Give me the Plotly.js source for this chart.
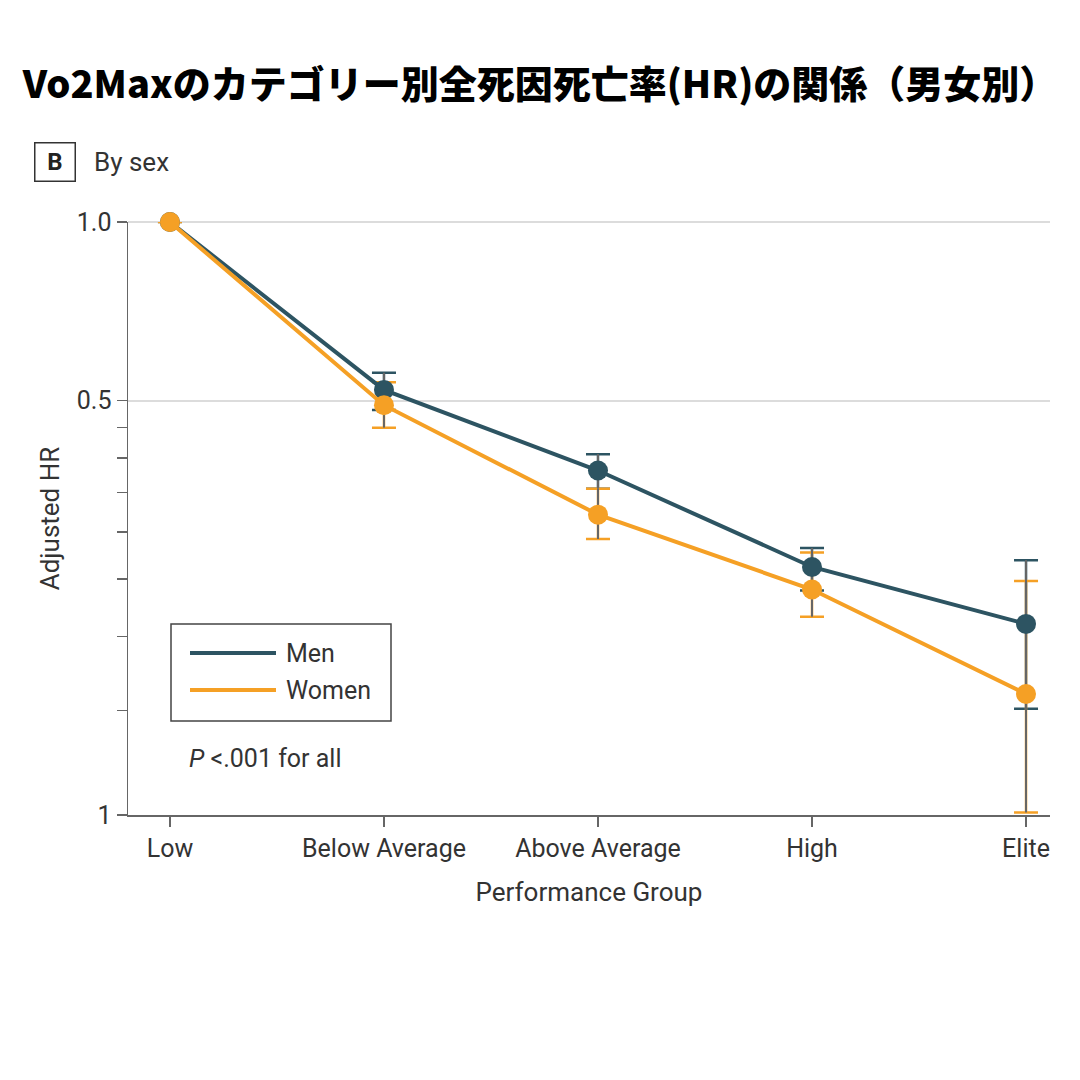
<!DOCTYPE html>
<html>
<head>
<meta charset="utf-8">
<script src="https://cdn.plot.ly/plotly-3.0.1.min.js"></script>
<style>
  html, body { margin: 0; padding: 0; background: #fff; }
  #chart { width: 1080px; height: 1080px; }
</style>
</head>
<body>
<div id="chart"></div>
<script>
// Values (adjusted HR with 95% CI)
const categories = ['Low', 'Below Average', 'Above Average', 'High', 'Elite'];
const menHR = [1.0, 0.521, 0.381, 0.262, 0.210];
const menLower = [1.0, 0.482, 0.355, 0.239, 0.151];
const menUpper = [1.0, 0.557, 0.406, 0.282, 0.269];
const womenHR = [1.0, 0.491, 0.321, 0.240, 0.160];
const womenLower = [1.0, 0.450, 0.292, 0.216, 0.101];
const womenUpper = [1.0, 0.537, 0.355, 0.277, 0.248];

const yTickVals = [0.1, 0.5, 1.0];
const yTickText = ['1', '0.5', '1.0'];
const yMinorVals = [0.15, 0.2, 0.25, 0.3, 0.35, 0.4, 0.45];

const MEN = '#2d5462';
const WOMEN = '#f5a025';
const STEM = '#666666';
const FONT = 'Roboto, "Noto Sans", sans-serif';

const upErr = (hr, up) => up.map((u, i) => u - hr[i]);
const downErr = (hr, lo) => lo.map((l, i) => hr[i] - l);

// colored caps, then grey stems drawn over them, then lines and markers
function capTrace(hr, lo, up, color) {
    return {
        x: categories, y: hr, type: 'scatter', mode: 'markers',
        marker: { size: 1, opacity: 0 }, showlegend: false, hoverinfo: 'skip', cliponaxis: false,
        error_y: { type: 'data', symmetric: false, array: upErr(hr, up), arrayminus: downErr(hr, lo),
                   color: color, thickness: 2.5, width: 12 }
    };
}
function stemTrace(hr, lo, up) {
    return {
        x: categories, y: hr, type: 'scatter', mode: 'markers',
        marker: { size: 1, opacity: 0 }, showlegend: false, hoverinfo: 'skip', cliponaxis: false,
        error_y: { type: 'data', symmetric: false, array: upErr(hr, up), arrayminus: downErr(hr, lo),
                   color: STEM, thickness: 2, width: 0 }
    };
}
function lineTrace(name, hr, color) {
    return {
        x: categories, y: hr, name: name, type: 'scatter', mode: 'lines+markers',
        line: { color: color, width: 4 }, marker: { color: color, size: 20 },
        showlegend: false, cliponaxis: false
    };
}

const data = [
    capTrace(menHR, menLower, menUpper, MEN),
    capTrace(womenHR, womenLower, womenUpper, WOMEN),
    stemTrace(menHR, menLower, menUpper),
    stemTrace(womenHR, womenLower, womenUpper),
    lineTrace('Men', menHR, MEN),
    lineTrace('Women', womenHR, WOMEN)
];

// plot area: x 128..1050, y 222..815 (px)
const px = (x) => (x - 128) / 922;
const py = (y) => (815 - y) / 593;

const layout = {
    width: 1080, height: 1080,
    margin: { l: 128, r: 30, t: 222, b: 265 },
    paper_bgcolor: '#fff', plot_bgcolor: '#fff',
    font: { family: FONT, size: 25, color: '#333' },
    title: {
        text: 'Vo2Maxのカテゴリー別全死因死亡率(HR)の関係（男女別）',
        font: { family: '"Noto Sans CJK JP", sans-serif', size: 38, color: '#000', weight: 900 },
        x: 0.5, xanchor: 'center', y: 1 - 85 / 1080, yanchor: 'middle'
    },
    xaxis: {
        type: 'category', range: [-0.196, 4.112], fixedrange: true,
        showline: true, linecolor: STEM, linewidth: 1.5,
        ticks: 'outside', ticklen: 10, tickcolor: STEM, tickwidth: 1.5,
        showgrid: false, zeroline: false,
        tickfont: { family: FONT, size: 25, color: '#333' },
        title: { text: 'Performance Group', standoff: 21, font: { family: FONT, size: 26, color: '#333' } }
    },
    yaxis: {
        type: 'log', range: [-1, 0], fixedrange: true,
        showline: true, linecolor: STEM, linewidth: 1.5,
        tickmode: 'array', tickvals: yTickVals, ticktext: yTickText,
        ticks: 'outside', ticklen: 10, tickcolor: STEM, tickwidth: 1.5,
        showgrid: true, gridcolor: '#dcdcdc', gridwidth: 2, zeroline: false,
        minor: { tickmode: 'array', tickvals: yMinorVals, ticks: 'outside', ticklen: 10,
                 tickcolor: STEM, tickwidth: 1.5, showgrid: false },
        tickfont: { family: FONT, size: 25, color: '#333' },
        title: { text: 'Adjusted HR', standoff: 9, font: { family: FONT, size: 26, color: '#333' } }
    },
    shapes: [
        // gridline at HR = 1.0 (top edge of the plot area)
        { type: 'line', xref: 'paper', yref: 'paper', x0: 0, x1: 1, y0: 1, y1: 1,
          line: { color: '#dcdcdc', width: 2 }, layer: 'below' },
        // legend box and sample lines
        { type: 'rect', xref: 'paper', yref: 'paper', x0: px(171), x1: px(391), y0: py(721), y1: py(624),
          line: { color: '#444', width: 1.5 }, fillcolor: 'rgba(0,0,0,0)' },
        { type: 'line', xref: 'paper', yref: 'paper', x0: px(190), x1: px(276), y0: py(653), y1: py(653),
          line: { color: MEN, width: 4 } },
        { type: 'line', xref: 'paper', yref: 'paper', x0: px(190), x1: px(276), y0: py(690), y1: py(690),
          line: { color: WOMEN, width: 4 } }
    ],
    annotations: [
        { text: '<b>B</b>', xref: 'paper', yref: 'paper', x: px(55), y: py(162), xanchor: 'center', yanchor: 'middle',
          showarrow: false, width: 37, height: 35, bordercolor: '#333', borderwidth: 1.5,
          font: { family: FONT, size: 24, color: '#222' } },
        { text: 'By sex', xref: 'paper', yref: 'paper', x: px(92), y: py(162), xanchor: 'left', yanchor: 'middle',
          showarrow: false, font: { family: FONT, size: 26, color: '#333' } },
        { text: 'Men', xref: 'paper', yref: 'paper', x: px(284), y: py(653), xanchor: 'left', yanchor: 'middle',
          showarrow: false, font: { family: FONT, size: 25, color: '#333' } },
        { text: 'Women', xref: 'paper', yref: 'paper', x: px(284), y: py(690), xanchor: 'left', yanchor: 'middle',
          showarrow: false, font: { family: FONT, size: 25, color: '#333' } },
        { text: '<i>P</i> &lt;.001 for all', xref: 'paper', yref: 'paper', x: px(187), y: py(758), xanchor: 'left', yanchor: 'middle',
          showarrow: false, font: { family: FONT, size: 25, color: '#333' } }
    ]
};

Plotly.newPlot('chart', data, layout, { displayModeBar: false, staticPlot: true });
</script>
</body>
</html>
